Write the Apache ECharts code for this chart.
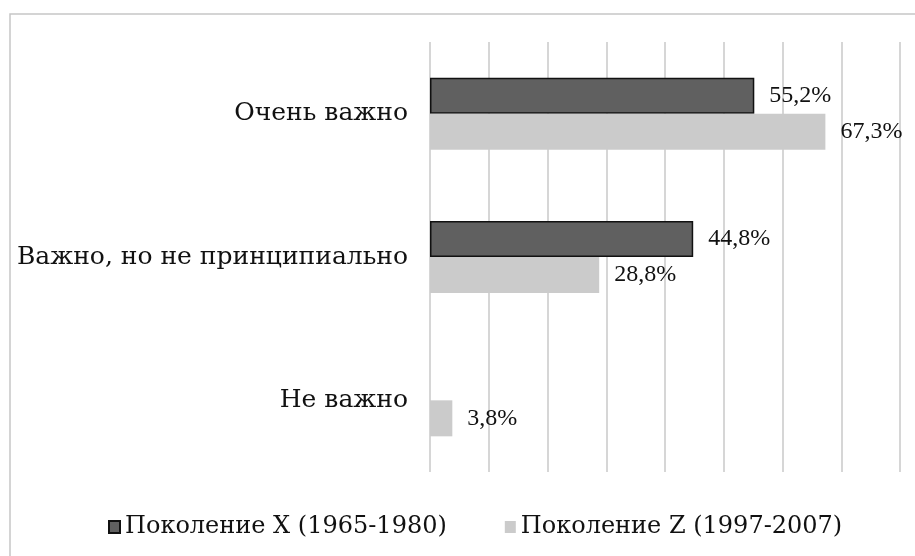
<!DOCTYPE html>
<html lang="ru">
<head>
    <meta charset="UTF-8">
    <title>Chart</title>
    <script src="https://cdn.jsdelivr.net/npm/echarts@6/dist/echarts.min.js"></script>
    <style>
        html, body {
            margin: 0;
            height: 100%;
            background: #fff;
        }
    </style>
</head>
<body>
<div id="main" style="width: 915px;height: 556px"></div>
<script>
    // данные
    var categories = ['Очень важно', 'Важно, но не принципиально', 'Не важно'];
    var genX = [55.2, 44.8, null];
    var genZ = [67.3, 28.8, 3.8];
    var seriesNames = ['Поколение X (1965-1980)', 'Поколение Z (1997-2007)'];

    // подписи категорий и легенда широким шрифтом, проценты - узким
    var wideFont = '"DejaVu Serif", serif';
    var numFont = '"Liberation Serif", "DejaVu Serif", serif';

    function pct(p) {
        return p.value.toFixed(1).replace('.', ',') + '%';
    }

    var myChart = echarts.init(document.getElementById('main'));
    var option = {
        animation: false,
        graphic: [{
            type: 'rect',
            shape: {x: 10, y: 14, width: 1000, height: 1000},
            style: {fill: 'none', stroke: '#c6c6c6', lineWidth: 1.5},
            silent: true
        }],
        grid: {left: 430, right: 15, top: 42, bottom: 84},
        legend: {
            left: 108,
            top: 515,
            padding: 0,
            icon: 'rect',
            itemWidth: 11,
            itemHeight: 12,
            itemGap: 58,
            textStyle: {fontFamily: wideFont, fontSize: 24, color: '#111'},
            data: seriesNames
        },
        xAxis: {
            type: 'value',
            min: 0,
            max: 80,
            interval: 10,
            axisLabel: {show: false},
            axisLine: {show: false},
            axisTick: {show: false},
            splitLine: {lineStyle: {color: '#c8c8c8', width: 1.5}}
        },
        yAxis: {
            type: 'category',
            inverse: true,
            data: categories,
            axisLine: {show: false},
            axisTick: {show: false},
            axisLabel: {margin: 22, fontFamily: wideFont, fontSize: 25, color: '#111'}
        },
        series: [{
            name: seriesNames[0],
            type: 'bar',
            data: genX,
            barWidth: 36,
            barGap: '0%',
            itemStyle: {color: '#606060', borderColor: '#111', borderWidth: 1.5},
            label: {
                show: true, position: 'right', distance: 15, formatter: pct,
                fontFamily: numFont, fontSize: 24, color: '#111'
            }
        }, {
            name: seriesNames[1],
            type: 'bar',
            data: genZ,
            barWidth: 36,
            itemStyle: {color: '#cbcbcb'},
            label: {
                show: true, position: 'right', distance: 15, formatter: pct,
                fontFamily: numFont, fontSize: 24, color: '#111'
            }
        }]
    };
    myChart.setOption(option);
</script>
</body>
</html>
